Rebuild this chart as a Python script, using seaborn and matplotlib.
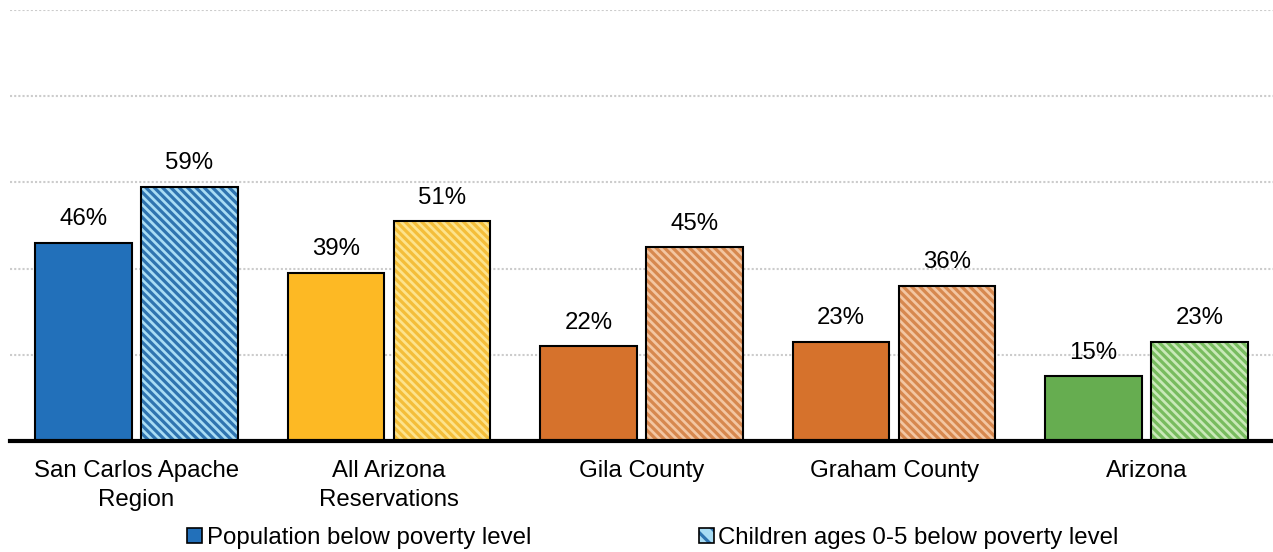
import pandas as pd
import seaborn as sns
from matplotlib import pyplot as plt
from matplotlib.patches import Patch, Rectangle
from matplotlib.legend_handler import HandlerTuple

regions = ["San Carlos Apache\nRegion", "All Arizona\nReservations", "Gila County", "Graham County", "Arizona"]
population = [46, 39, 22, 23, 15]
children = [59, 51, 45, 36, 23]
series = ["Population below poverty level", "Children ages 0-5 below poverty level"]

solid_colors = ["#2270BA", "#FDB924", "#D6722C", "#D6722C", "#66AD50"]
light_colors = ["#A8DCF4", "#FDE38C", "#F3C6A2", "#F3C6A2", "#C9E9B8"]
hatch_colors = ["#2F74B0", "#F4BE3A", "#D7884F", "#D7884F", "#78BC5F"]

FS = 17.3

sns.set_style("white")
plt.rcParams['font.family'] = ['Liberation Sans', 'DejaVu Sans']
plt.rcParams['hatch.linewidth'] = 2.3
plt.rcParams['text.color'] = 'black'
plt.rcParams['xtick.color'] = 'black'

df = pd.DataFrame({
    'region': regions * 2,
    'series': [series[0]] * len(regions) + [series[1]] * len(regions),
    'value': population + children,
})

fig = plt.figure(figsize=(12.73, 5.52), dpi=100)
ax = fig.add_axes([10 / 1273, 1 - 441 / 552, 1 - 10 / 1273, 431 / 552])

sns.barplot(data=df, x='region', y='value', hue='series', hue_order=series,
            width=0.84, gap=0.09, ax=ax, legend=False)

pop_bars, child_bars = ax.containers[0], ax.containers[1]
for patch, c in zip(pop_bars, solid_colors):
    patch.set_facecolor(c)
    patch.set_edgecolor('black')
    patch.set_linewidth(1.5)
for patch, lc, hc in zip(child_bars, light_colors, hatch_colors):
    patch.set_facecolor(lc)
    patch.set_edgecolor(hc)
    patch.set_linewidth(0)
    patch.set_hatch('\\\\\\\\')
    ax.add_patch(Rectangle((patch.get_x(), patch.get_y()), patch.get_width(), patch.get_height(),
                           fill=False, edgecolor='black', linewidth=1.5, zorder=patch.get_zorder() + 0.1))

ax.bar_label(pop_bars, labels=[f"{v}%" for v in population], padding=9, fontsize=FS, color='black')
ax.bar_label(child_bars, labels=[f"{v}%" for v in children], padding=9, fontsize=FS, color='black')

ax.set_ylim(0, 100)
ax.set_xlim(-0.5, 4.5)
ax.set_yticks([20, 40, 60, 80, 100])
ax.set_yticklabels([])
ax.yaxis.grid(True, linestyle=(0, (1, 1)), color='#CCCCCC', linewidth=1.5)
ax.set_axisbelow(True)
ax.tick_params(axis='y', length=0)
ax.tick_params(axis='x', length=0, pad=14, labelsize=FS)
for lbl in ax.get_xticklabels():
    lbl.set_linespacing(1.4)
ax.set_xlabel('')
ax.set_ylabel('')
for s in ['left', 'top', 'right']:
    ax.spines[s].set_visible(False)
ax.spines['bottom'].set_color('black')
ax.spines['bottom'].set_linewidth(3)

h1 = Patch(facecolor=solid_colors[0], edgecolor='black', linewidth=1.2)
h2a = Patch(facecolor=light_colors[0], edgecolor=hatch_colors[0], linewidth=0, hatch='\\\\')
h2b = Patch(fill=False, edgecolor='black', linewidth=1.2)
fig.legend([h1, (h2a, h2b)], series, loc='center', bbox_to_anchor=(653 / 1273, 1 - 538 / 552),
           ncol=2, frameon=False, fontsize=FS, handlelength=0.6, handleheight=0.6,
           handletextpad=0.2, columnspacing=7.0, borderpad=0,
           handler_map={tuple: HandlerTuple(ndivide=1, pad=0)})

fig.savefig('out.png', dpi=100)
